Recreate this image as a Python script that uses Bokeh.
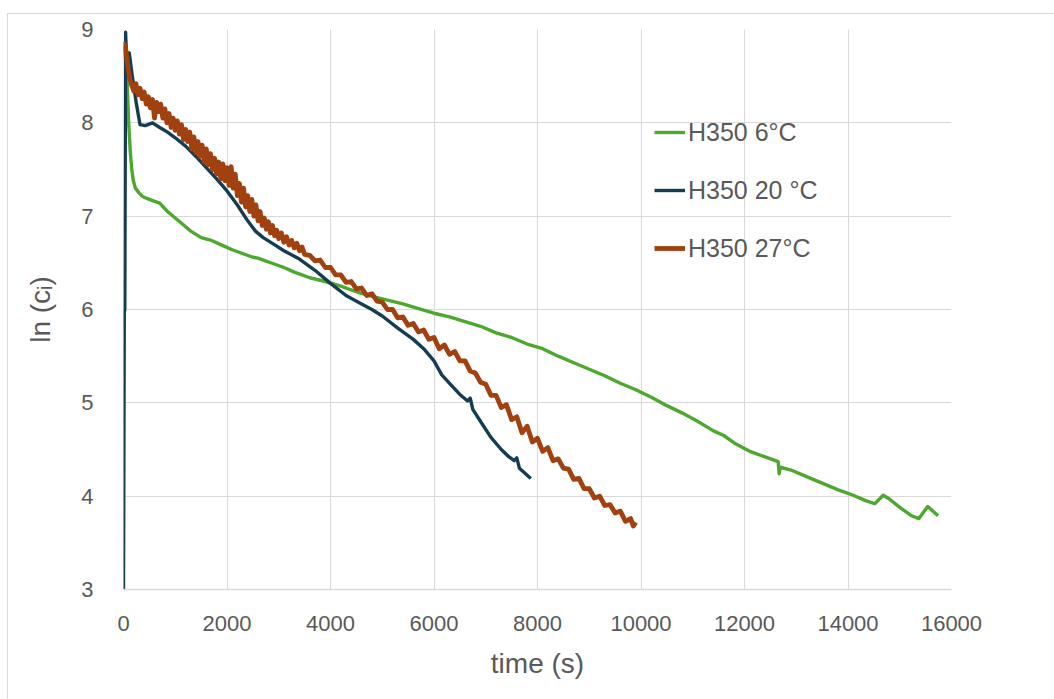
from bokeh.plotting import figure
from bokeh.models import FixedTicker, Legend, LegendItem
from bokeh.embed import file_html
from bokeh.resources import INLINE

# H350 at 6 °C
t_6c = [0, 60, 100, 130, 160, 190, 230, 300, 370, 450, 550, 700, 850, 1000, 1150,
        1300, 1500, 1700, 1900, 2100, 2300, 2500, 2600, 2700, 2900, 3100, 3300, 3600,
        3900, 4200, 4500, 4800, 5100, 5400, 5700, 6000, 6300, 6600, 6900, 7200, 7500,
        7800, 8100, 8400, 8700, 9000, 9300, 9600, 9900, 10200, 10500, 10800, 11100,
        11400, 11600, 11800, 12100, 12400, 12650, 12670, 12690, 12900, 13200, 13500,
        13800, 14100, 14350, 14520, 14680, 14800, 15000, 15230, 15370, 15540, 15740]
ln_6c = [8.82, 8.60, 8.00, 7.70, 7.50, 7.38, 7.30, 7.25, 7.21, 7.19, 7.17, 7.14, 7.05,
         6.98, 6.91, 6.84, 6.77, 6.74, 6.69, 6.64, 6.60, 6.56, 6.55, 6.53, 6.49, 6.45,
         6.40, 6.34, 6.30, 6.25, 6.19, 6.14, 6.10, 6.06, 6.01, 5.96, 5.92, 5.87, 5.82,
         5.75, 5.70, 5.63, 5.58, 5.50, 5.43, 5.36, 5.29, 5.21, 5.14, 5.06, 4.97, 4.89,
         4.80, 4.70, 4.65, 4.57, 4.48, 4.42, 4.37, 4.24, 4.31, 4.28, 4.21, 4.14, 4.07,
         4.01, 3.95, 3.92, 4.01, 3.97, 3.88, 3.79, 3.76, 3.89, 3.79]

# H350 at 20 °C
t_20c = [0, 15, 25, 40, 70, 110, 170, 250, 320, 420, 560, 700, 850, 1000, 1200, 1400,
         1600, 1800, 2000, 2200, 2400, 2550, 2700, 2900, 3100, 3400, 3700, 4000, 4300,
         4600, 4800, 5000, 5300, 5600, 5800, 6000, 6150, 6350, 6500, 6650, 6700, 6750,
         6900, 7100, 7300, 7450, 7550, 7600, 7650, 7870]
ln_20c = [3.00, 5.97, 6.00, 8.97, 8.55, 8.75, 8.50, 8.20, 7.98, 7.97, 8.00, 7.95, 7.90,
          7.84, 7.75, 7.64, 7.52, 7.40, 7.27, 7.12, 6.95, 6.84, 6.77, 6.70, 6.63, 6.54,
          6.42, 6.28, 6.15, 6.06, 6.00, 5.93, 5.80, 5.68, 5.58, 5.45, 5.30, 5.18, 5.09,
          5.02, 5.05, 4.93, 4.80, 4.63, 4.50, 4.42, 4.38, 4.41, 4.30, 4.19]

# H350 at 27 °C
t_27c = [0, 40, 80, 120, 160, 200, 240, 280, 320, 360, 400, 440, 480, 520, 560, 600,
         640, 680, 720, 760, 800, 840, 880, 920, 960, 1000, 1040, 1080, 1120, 1160,
         1200, 1240, 1280, 1320, 1360, 1400, 1440, 1480, 1520, 1560, 1600, 1640, 1680,
         1720, 1760, 1800, 1840, 1880, 1920, 1960, 2000, 2040, 2080, 2120, 2160, 2200,
         2240, 2280, 2320, 2360, 2400, 2440, 2480, 2520, 2560, 2600, 2640, 2680, 2720,
         2760, 2800, 2840, 2880, 2920, 2960, 3000, 3050, 3100, 3150, 3200, 3250, 3300,
         3350, 3400, 3450, 3500, 3600, 3700, 3800, 3900, 4000, 4100, 4200, 4300, 4400,
         4500, 4600, 4700, 4800, 4900, 5000, 5100, 5200, 5300, 5400, 5500, 5600, 5700,
         5800, 5900, 6000, 6100, 6200, 6300, 6400, 6500, 6600, 6700, 6800, 6900, 7000,
         7100, 7200, 7300, 7400, 7500, 7600, 7700, 7800, 7900, 8000, 8100, 8200, 8300,
         8400, 8500, 8600, 8700, 8800, 8900, 9000, 9100, 9200, 9300, 9400, 9500, 9600,
         9700, 9800, 9850, 9900]
ln_27c = [8.87, 8.80, 8.62, 8.48, 8.40, 8.34, 8.42, 8.30, 8.37, 8.26, 8.33, 8.20, 8.28,
          8.16, 8.25, 8.05, 8.22, 8.12, 8.20, 8.05, 8.15, 8.00, 8.10, 7.95, 8.05, 7.92,
          8.02, 7.88, 7.98, 7.82, 7.93, 7.80, 7.90, 7.72, 7.85, 7.68, 7.80, 7.64, 7.76,
          7.58, 7.72, 7.55, 7.67, 7.50, 7.62, 7.45, 7.58, 7.40, 7.56, 7.38, 7.52, 7.33,
          7.53, 7.30, 7.45, 7.22, 7.35, 7.15, 7.30, 7.10, 7.22, 7.05, 7.18, 7.00, 7.12,
          6.95, 7.05, 6.90, 6.98, 6.86, 6.94, 6.82, 6.90, 6.79, 6.85, 6.76, 6.82, 6.72,
          6.78, 6.69, 6.74, 6.66, 6.71, 6.63, 6.67, 6.59, 6.58, 6.52, 6.53, 6.45, 6.45,
          6.37, 6.37, 6.29, 6.30, 6.22, 6.23, 6.15, 6.17, 6.09, 6.08, 6.00, 6.00, 5.91,
          5.92, 5.83, 5.85, 5.76, 5.78, 5.68, 5.70, 5.58, 5.62, 5.52, 5.55, 5.45, 5.45,
          5.34, 5.32, 5.22, 5.20, 5.08, 5.08, 4.95, 4.98, 4.82, 4.85, 4.68, 4.75, 4.58,
          4.62, 4.48, 4.52, 4.38, 4.40, 4.30, 4.29, 4.18, 4.19, 4.08, 4.08, 3.98, 4.00,
          3.90, 3.91, 3.82, 3.84, 3.73, 3.76, 3.68, 3.72]

x_ticks = [0, 2000, 4000, 6000, 8000, 10000, 12000, 14000, 16000]
y_ticks = [3, 4, 5, 6, 7, 8, 9]

GREEN = "#4ea72e"
NAVY = "#143d52"
RUST = "#a0410f"
TEXT = "#595959"
GRID = "#d9d9d9"
FONT = "Liberation Sans"

p = figure(width=1047, height=686, x_range=(0, 16000), y_range=(3, 9),
           output_backend="svg", toolbar_location=None,
           min_border_left=115, min_border_right=104,
           min_border_top=15, min_border_bottom=111)
p.margin = (13, 0, 0, 7)
p.styles = {"border-top": f"1px solid {GRID}", "border-left": f"1px solid {GRID}"}
p.outline_line_color = None
p.background_fill_color = "white"
p.border_fill_color = "white"

r6 = p.line(t_6c, ln_6c, line_color=GREEN, line_width=3.4, line_join="round")
r20 = p.line(t_20c, ln_20c, line_color=NAVY, line_width=3.4, line_join="round")
r27 = p.line(t_27c, ln_27c, line_color=RUST, line_width=4.8, line_join="round")

p.xaxis.ticker = FixedTicker(ticks=x_ticks)
p.yaxis.ticker = FixedTicker(ticks=y_ticks)
p.xgrid.ticker = FixedTicker(ticks=x_ticks)
p.ygrid.ticker = FixedTicker(ticks=y_ticks)
for g in (p.xgrid, p.ygrid):
    g.grid_line_color = GRID
    g.grid_line_width = 1

for ax in (p.xaxis, p.yaxis):
    ax.major_tick_line_color = None
    ax.minor_tick_line_color = None
    ax.major_label_text_font = FONT
    ax.major_label_text_font_size = "22px"
    ax.major_label_text_color = TEXT
    ax.axis_label_text_font = FONT
    ax.axis_label_text_font_size = "28px"
    ax.axis_label_text_font_style = "normal"
    ax.axis_label_text_color = TEXT

p.xaxis.axis_line_color = GRID
p.xaxis.axis_line_width = 1.5
p.yaxis.axis_line_color = None
p.xaxis.major_label_standoff = 20
p.yaxis.major_label_standoff = 24
p.xaxis.axis_label = "time (s)"
p.yaxis.axis_label = "ln (c\u1d62)"
p.xaxis.axis_label_standoff = 14
p.yaxis.axis_label_standoff = 22

legend = Legend(items=[LegendItem(label="H350 6°C", renderers=[r6]),
                       LegendItem(label="H350 20 °C", renderers=[r20]),
                       LegendItem(label="H350 27°C", renderers=[r27])],
                location=(531, 326))
legend.glyph_width = 31
legend.glyph_height = 30
legend.label_height = 30
legend.label_standoff = 3
legend.spacing = 28
legend.padding = 0
legend.margin = 0
legend.border_line_color = None
legend.background_fill_alpha = 0
legend.label_text_font = FONT
legend.label_text_font_size = "25px"
legend.label_text_color = TEXT
p.add_layout(legend)

open("out.html", "w").write(file_html(p, INLINE))
